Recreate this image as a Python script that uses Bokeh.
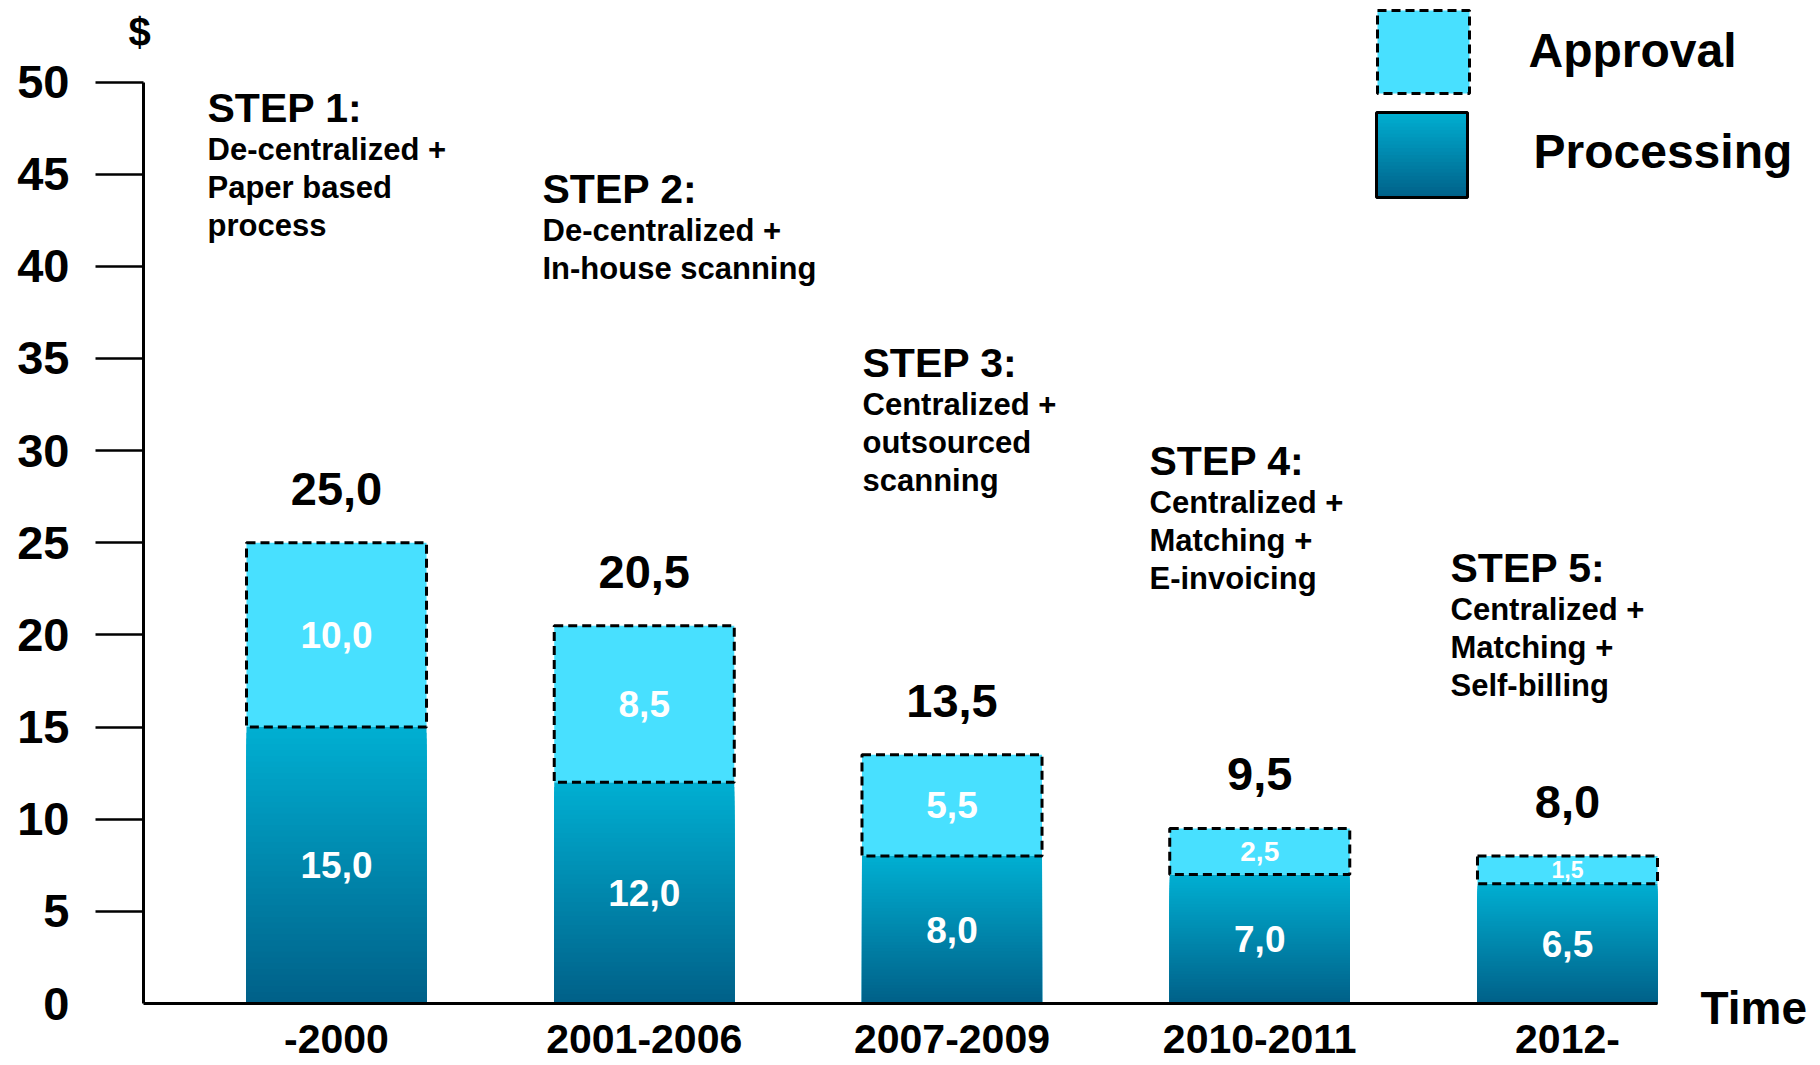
import numpy as np
from bokeh.plotting import figure
from bokeh.models import ColumnDataSource, Range1d, FixedTicker, Label, BoxAnnotation
from bokeh.core.properties import value
from bokeh.embed import file_html
from bokeh.resources import INLINE

# ---------------- data ----------------
periods = ["-2000", "2001-2006", "2007-2009", "2010-2011", "2012-"]
processing = [15.0, 12.0, 8.0, 7.0, 6.5]
approval = [10.0, 8.5, 5.5, 2.5, 1.5]
y_ticks = [0, 5, 10, 15, 20, 25, 30, 35, 40, 45, 50]
series = ["Approval", "Processing"]
step_titles = ["STEP 1:", "STEP 2:", "STEP 3:", "STEP 4:", "STEP 5:"]
step_texts = [
    ["De-centralized +", "Paper based", "process"],
    ["De-centralized +", "In-house scanning"],
    ["Centralized +", "outsourced", "scanning"],
    ["Centralized +", "Matching +", "E-invoicing"],
    ["Centralized +", "Matching +", "Self-billing"],
]
y_title = "$"
x_title = "Time"

# ---------------- layout / style ----------------
FONT = "Liberation Sans"
W, H = 1818, 1063
SX, X0 = 307.75, 336.0      # px per category step, px of first category
SY, Y0 = 18.43, 1003.0      # px per $ unit, px of value 0
YAXIS_PX = 143.0


def sx(px):
    return px


def sy(py):
    return H - py


APPROVAL_C = "#48E0FF"
PROC_TOP = np.array([0x00, 0xAF, 0xD2], dtype=float)
PROC_BOT = np.array([0x00, 0x60, 0x88], dtype=float)
BAR_W = 0.585
N_SHADE = 48


def shade(t):
    c = PROC_BOT + (PROC_TOP - PROC_BOT) * t
    return "#%02x%02x%02x" % tuple(int(round(v)) for v in c)


def fmt(v):
    return f"{v:.1f}".replace(".", ",")


def inner_size(v):
    return "37px" if v >= 3 else ("28px" if v >= 2 else "23px")


idx = np.arange(len(periods))
proc = np.array(processing)
appr = np.array(approval)
total = proc + appr

x_start, x_end = -X0 / SX, (W - X0) / SX
y_start, y_end = -(H - Y0) / SY, Y0 / SY
yaxis_x = (YAXIS_PX - X0) / SX

p = figure(width=W, height=H, output_backend="svg", toolbar_location=None,
           x_range=Range1d(x_start, x_end), y_range=Range1d(y_start, y_end),
           min_border=0)
p.outline_line_color = None
p.xgrid.grid_line_color = None
p.ygrid.grid_line_color = None
p.background_fill_color = "white"
p.border_fill_color = "white"

# ---- axes (fixed inside the frame) ----
xa = p.xaxis[0]
xa.fixed_location = 0
xa.ticker = FixedTicker(ticks=[float(i) for i in idx])
xa.major_label_overrides = {int(i): lab for i, lab in zip(idx, periods)}
xa.major_tick_line_color = None
xa.minor_tick_line_color = None
xa.axis_line_width = 3
xa.axis_line_color = "black"
xa.major_label_text_font = FONT
xa.major_label_text_font_style = "bold"
xa.major_label_text_font_size = "41px"
xa.major_label_text_color = "black"
xa.major_label_standoff = 15
xa.bounds = (yaxis_x, idx[-1] + BAR_W / 2)

ya = p.yaxis[0]
ya.fixed_location = yaxis_x
ya.ticker = FixedTicker(ticks=y_ticks[1:])
ya.major_tick_out = 48
ya.major_tick_in = 0
ya.major_tick_line_width = 2.5
ya.major_tick_line_color = "black"
ya.minor_tick_line_color = None
ya.axis_line_width = 3
ya.axis_line_color = "black"
ya.major_label_text_font = FONT
ya.major_label_text_font_style = "bold"
ya.major_label_text_font_size = "47px"
ya.major_label_text_color = "black"
ya.major_label_standoff = 26
ya.bounds = (y_ticks[0], y_ticks[-1])

# zero label (the original has no tick mark at the origin)
p.add_layout(Label(x=YAXIS_PX - 48 - 26, y=y_ticks[0], x_units="screen", y_units="data",
                   text=str(y_ticks[0]), text_align="right", text_baseline="middle",
                   text_font=FONT, text_font_style="bold", text_font_size="47px",
                   text_color="black"))

# ---- processing bars, vertical gradient via nested quads ----
L, R, T, C = [], [], [], []
for k in range(N_SHADE):
    frac = 1 - k / N_SHADE
    col = shade(frac - 0.5 / N_SHADE)
    for i in idx:
        L.append(i - BAR_W / 2)
        R.append(i + BAR_W / 2)
        T.append(proc[i] * frac)
        C.append(col)
p.quad(left=L, right=R, bottom=0, top=T, fill_color=C, line_color=None)

# ---- approval bars ----
src_a = ColumnDataSource(dict(left=idx - BAR_W / 2, right=idx + BAR_W / 2,
                              bottom=proc, top=total))
p.quad(left="left", right="right", bottom="bottom", top="top", source=src_a,
       fill_color=APPROVAL_C, line_color="black", line_width=3, line_dash="9 5")

# ---- value labels ----
src_t = ColumnDataSource(dict(
    x=idx, y_tot=total, t_tot=[fmt(v) for v in total],
    y_a=proc + appr / 2, t_a=[fmt(v) for v in appr],
    fs_a=[inner_size(v) for v in appr],
    y_p=proc / 2, t_p=[fmt(v) for v in proc]))
p.text(x="x", y="y_tot", text="t_tot", source=src_t, text_align="center",
       text_baseline="middle", y_offset=-54, text_font=value(FONT),
       text_font_style="bold", text_font_size="47px", text_color="black")
p.text(x="x", y="y_a", text="t_a", source=src_t, text_align="center",
       text_baseline="middle", text_font=value(FONT), text_font_style="bold",
       text_font_size="fs_a", text_color="white")
p.text(x="x", y="y_p", text="t_p", source=src_t, text_align="center",
       text_baseline="middle", text_font=value(FONT), text_font_style="bold",
       text_font_size="37px", text_color="white")


def add_text(px, py, text, size, align="left"):
    p.add_layout(Label(x=sx(px), y=sy(py), x_units="screen", y_units="screen",
                       text=text, text_align=align, text_baseline="middle",
                       text_font=FONT, text_font_style="bold", text_font_size=size,
                       text_color="black"))


# ---- step annotations ----
STEP_LEFT = [207, 542, 862, 1149, 1450]
STEP_MID = [107, 188, 362, 460, 567]
for title, lines, lx, my in zip(step_titles, step_texts, STEP_LEFT, STEP_MID):
    add_text(lx, my, title, "41px")
    for j, ln in enumerate(lines):
        add_text(lx, my + 42 + 38 * j, ln, "31px")

# ---- axis titles ----
add_text(139, 31, y_title, "40px", align="center")
add_text(1700, 1007, x_title, "46px")


# ---- legend ----
def box(l, r, t, b, **kw):
    p.add_layout(BoxAnnotation(left=sx(l), right=sx(r), top=sy(t), bottom=sy(b),
                               left_units="screen", right_units="screen",
                               top_units="screen", bottom_units="screen", **kw))


box(1377, 1469, 10, 93, fill_color=APPROVAL_C, fill_alpha=1, line_color="black",
    line_alpha=1, line_width=3, line_dash="9 5")
lg_top, lg_bot = 112, 197
NL = 24
for k in range(NL):
    frac = 1 - k / NL
    box(1376, 1467, lg_bot - (lg_bot - lg_top) * frac, lg_bot,
        fill_color=shade(frac - 0.5 / NL), fill_alpha=1, line_color=None)
box(1376, 1467, lg_top, lg_bot, fill_alpha=0, line_color="black", line_alpha=1,
    line_width=3)
add_text(1528, 50, series[0], "48px")
add_text(1533, 151, series[1], "48px")

open("out.html", "w").write(file_html(p, INLINE))
